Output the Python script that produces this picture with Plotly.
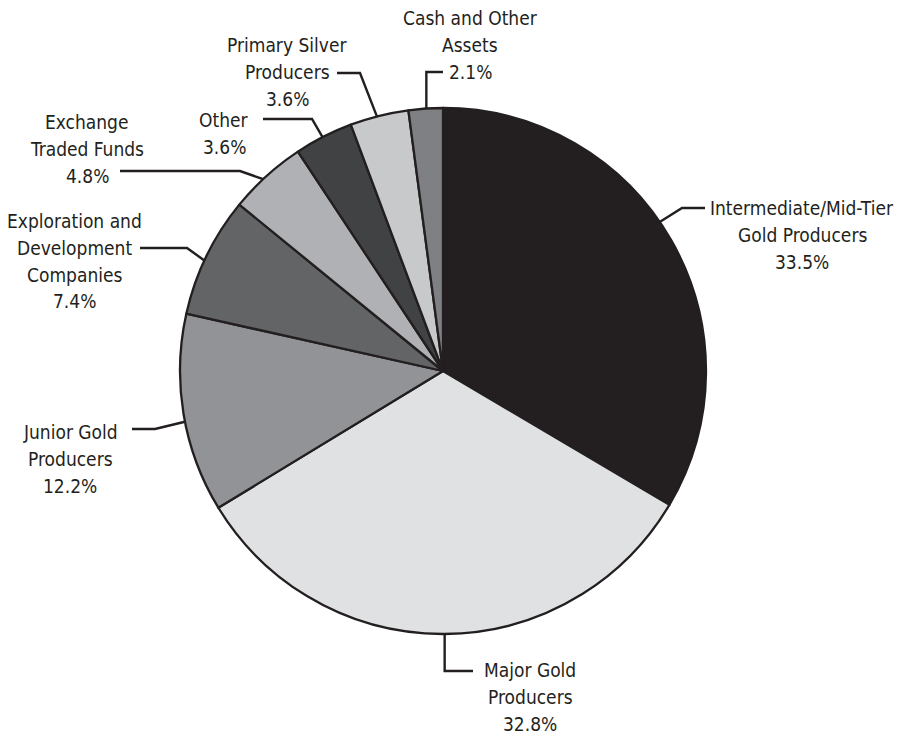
import math
import plotly.graph_objects as go

# ---- data ----
categories = [
    "Intermediate/Mid-Tier Gold Producers",
    "Major Gold Producers",
    "Junior Gold Producers",
    "Exploration and Development Companies",
    "Exchange Traded Funds",
    "Other",
    "Primary Silver Producers",
    "Cash and Other Assets",
]
values = [33.5, 32.8, 12.2, 7.4, 4.8, 3.6, 3.6, 2.1]
label_lines = [
    ["Intermediate/Mid-Tier", "Gold Producers"],
    ["Major Gold", "Producers"],
    ["Junior Gold", "Producers"],
    ["Exploration and", "Development", "Companies"],
    ["Exchange", "Traded Funds"],
    ["Other"],
    ["Primary Silver", "Producers"],
    ["Cash and Other", "Assets"],
]
colors = ["#231f20", "#e0e1e3", "#929396", "#636466",
          "#b0b1b4", "#414244", "#c8c9cb", "#7f8083"]

# ---- layout (coordinates in window pixels) ----
W, H = 897, 735
CX, CY, R = 443, 371, 263
INK = "#231f20"
FONT = "DejaVu Sans Condensed, Liberation Sans Narrow, sans-serif"
FSIZE = 19
LINE_GAP = 26.8

# label block: centre x, first-line centre y
label_pos = [(802, 208), (530, 670), (70, 432), (74, 221),
             (87, 122), (224, 120), (287, 45), (470, 18)]
elbow = [(682, 208), (None, 671), (155, 429), (187, 248),
         (240, 171), (312, 119), (360, 73), (None, 72)]
end_x = [705, 473, 132, 140, 120, 263, 337, 443]
anchor_frac = [0.46, 0.5, 0.46, 0.46, 0.44, 0.48, 0.46, 0.52]

fig = go.Figure()

fig.add_trace(go.Pie(
    labels=categories, values=values, sort=False, direction="clockwise",
    rotation=0, marker=dict(colors=colors, line=dict(color=INK, width=2.3)),
    textinfo="none", hoverinfo="label+percent", showlegend=False,
    domain=dict(x=[(CX - R) / W, (CX + R) / W],
                y=[1 - (CY + R) / H, 1 - (CY - R) / H]),
))

total = sum(values)
cum = 0.0
for i, v in enumerate(values):
    a = (cum + v * anchor_frac[i]) / total * 2 * math.pi
    cum += v
    ax = CX + R * math.sin(a)
    ay = CY - R * math.cos(a)
    ex, ey = elbow[i]
    if ex is None:
        ex = ax
    fig.add_trace(go.Scatter(
        x=[ax, ex, end_x[i]], y=[ay, ey, ey],
        mode="lines", line=dict(color=INK, width=2.4), hoverinfo="skip",
        showlegend=False, xaxis="x", yaxis="y"))
    lx, ly = label_pos[i]
    lines = label_lines[i] + [f"{v:.1f}%"]
    for k, t in enumerate(lines):
        fig.add_annotation(
            x=lx, y=ly + k * LINE_GAP, xref="x", yref="y",
            showarrow=False, text=t, align="center",
            xanchor="center", yanchor="middle",
            font=dict(family=FONT, size=FSIZE, color=INK))

fig.update_layout(
    width=W, height=H, margin=dict(l=0, r=0, t=0, b=0),
    paper_bgcolor="white", plot_bgcolor="rgba(0,0,0,0)",
    xaxis=dict(range=[0, W], visible=False, fixedrange=True),
    yaxis=dict(range=[H, 0], visible=False, fixedrange=True),
)

fig.write_html(
    "out.html",
    config={"displayModeBar": False},
    post_script="document.body.style.margin='0';"
                "document.body.style.overflow='hidden';",
)
